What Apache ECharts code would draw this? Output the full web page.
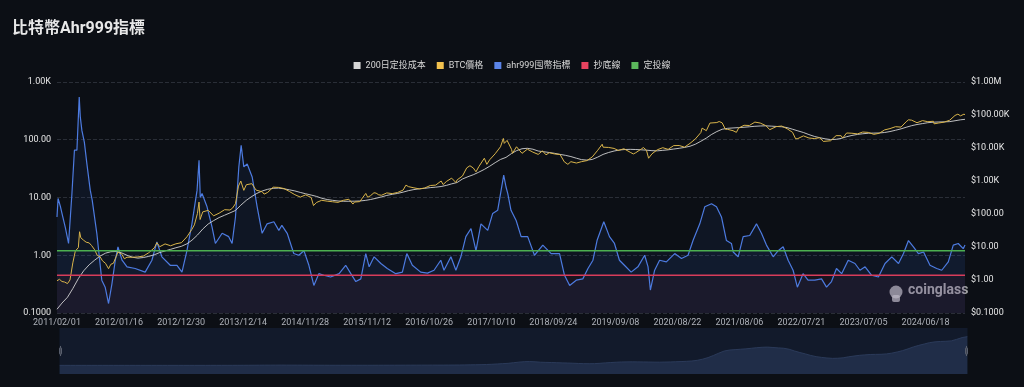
<!DOCTYPE html>
<html><head><meta charset="utf-8">
<style>html,body{margin:0;padding:0;background:#0c0f15;}#chart{width:1024px;height:387px;}</style>
<script src="https://cdn.jsdelivr.net/npm/echarts@6/dist/echarts.min.js"></script>
</head><body><div id="chart"></div>
<script>
const startDate = '2011/02/01';
const endDate = '2025/01/26';
const thresholdNames = ['抄底線', '定投線'];
const thresholdValues = [0.45, 1.2];

const costDates = ['2011/02/01','2011/03/01','2011/04/01','2011/05/01','2011/06/01','2011/07/01','2011/08/01','2011/09/01','2011/10/01','2011/11/01','2011/12/01',
'2012/01/01','2012/02/01','2012/03/01','2012/04/01','2012/05/01','2012/06/01','2012/07/01','2012/08/01','2012/09/01','2012/10/01','2012/11/01','2012/12/01',
'2013/01/01','2013/02/01','2013/03/01','2013/04/01','2013/05/01','2013/06/01','2013/07/01','2013/08/01','2013/09/01','2013/10/01','2013/11/01','2013/12/01',
'2014/01/01','2014/02/01','2014/03/01','2014/04/01','2014/05/01','2014/06/01','2014/07/01','2014/08/01','2014/09/01','2014/10/01','2014/11/01','2014/12/01',
'2015/01/01','2015/02/01','2015/03/01','2015/04/01','2015/05/01','2015/06/01','2015/07/01','2015/08/01','2015/09/01','2015/10/01','2015/11/01','2015/12/01',
'2016/01/01','2016/02/01','2016/03/01','2016/04/01','2016/05/01','2016/06/01','2016/07/01','2016/08/01','2016/09/01','2016/10/01','2016/11/01','2016/12/01',
'2017/01/01','2017/02/01','2017/03/01','2017/04/01','2017/05/01','2017/06/01','2017/07/01','2017/08/01','2017/09/01','2017/10/01','2017/11/01','2017/12/01',
'2018/01/01','2018/02/01','2018/03/01','2018/04/01','2018/05/01','2018/06/01','2018/07/01','2018/08/01','2018/09/01','2018/10/01','2018/11/01','2018/12/01',
'2019/01/01','2019/02/01','2019/03/01','2019/04/01','2019/05/01','2019/06/01','2019/07/01','2019/08/01','2019/09/01','2019/10/01','2019/11/01','2019/12/01',
'2020/01/01','2020/02/01','2020/03/01','2020/04/01','2020/05/01','2020/06/01','2020/07/01','2020/08/01','2020/09/01','2020/10/01','2020/11/01','2020/12/01',
'2021/01/01','2021/02/01','2021/03/01','2021/04/01','2021/05/01','2021/06/01','2021/07/01','2021/08/01','2021/09/01','2021/10/01','2021/11/01','2021/12/01',
'2022/01/01','2022/02/01','2022/03/01','2022/04/01','2022/05/01','2022/06/01','2022/07/01','2022/08/01','2022/09/01','2022/10/01','2022/11/01','2022/12/01',
'2023/01/01','2023/02/01','2023/03/01','2023/04/01','2023/05/01','2023/06/01','2023/07/01','2023/08/01','2023/09/01','2023/10/01','2023/11/01','2023/12/01',
'2024/01/01','2024/02/01','2024/03/01','2024/04/01','2024/05/01','2024/06/01','2024/07/01','2024/08/01','2024/09/01','2024/10/01','2024/11/01','2024/12/01',
'2025/01/01','2025/01/26'];
const costValues = [0.13,0.2,0.3,0.55,1.1,1.9,2.9,4.0,5.3,6.5,7.2,
7.3,6.6,5.6,4.9,4.6,4.8,5.2,5.8,6.8,7.6,8.5,9.5,
10.5,12.5,16,23,35,50,63,78,92,108,128,185,
260,340,420,500,560,600,610,580,540,500,450,410,
375,340,300,275,260,248,243,243,245,248,258,275,
300,330,365,395,420,460,510,550,580,600,630,650,
680,740,820,900,1150,1350,1550,1850,2250,2800,3600,4500,
5200,6800,8300,9500,9800,9200,8100,7700,7300,6900,6400,6000,
5500,4900,4450,4300,4500,5300,6400,7300,8100,8700,9000,9100,
9000,8800,8600,8300,8200,8500,8800,9300,9800,10400,11300,13000,
16000,20000,25500,31500,37000,39500,40500,41500,42500,44000,45500,46500,
47000,46000,45000,44000,41500,37000,33000,29500,25500,22500,20500,19000,
18000,18300,19500,22000,24000,25800,27000,28000,28300,28500,29500,31500,
34500,38000,42500,47500,51500,55000,58500,60500,61500,62000,63000,67000,
71500,74000];

const priceDates = ['2011/02/01','2011/02/15','2011/03/01','2011/03/15','2011/04/01','2011/04/15','2011/05/01','2011/05/15','2011/06/01','2011/06/08','2011/06/15','2011/07/01','2011/07/15','2011/08/01','2011/08/15','2011/09/01','2011/09/15','2011/10/01','2011/10/15','2011/11/01','2011/11/18','2011/12/01','2011/12/15',
'2012/01/01','2012/01/10','2012/02/01','2012/02/15','2012/03/01','2012/04/01','2012/05/01','2012/06/01','2012/07/01','2012/08/01','2012/08/16','2012/09/01','2012/10/01','2012/11/01','2012/12/01',
'2013/01/01','2013/02/01','2013/03/01','2013/03/15','2013/04/01','2013/04/10','2013/04/16','2013/05/01','2013/06/01','2013/07/01','2013/08/01','2013/09/01','2013/10/01','2013/10/15','2013/11/01','2013/11/18','2013/12/01','2013/12/18',
'2014/01/01','2014/02/01','2014/02/25','2014/03/01','2014/04/01','2014/04/11','2014/05/01','2014/06/01','2014/07/01','2014/08/01','2014/09/01','2014/10/01','2014/11/01','2014/12/01',
'2015/01/01','2015/01/14','2015/02/01','2015/03/01','2015/04/01','2015/05/01','2015/06/01','2015/07/01','2015/08/01','2015/08/24','2015/09/01','2015/10/01','2015/11/04','2015/11/15','2015/12/01','2015/12/20',
'2016/01/01','2016/01/16','2016/02/01','2016/03/01','2016/04/01','2016/05/01','2016/06/01','2016/06/17','2016/07/01','2016/08/01','2016/09/01','2016/10/01','2016/11/01','2016/12/01',
'2017/01/01','2017/01/12','2017/02/01','2017/03/01','2017/03/25','2017/04/01','2017/05/01','2017/05/25','2017/06/01','2017/06/12','2017/07/01','2017/07/16','2017/08/01','2017/09/01','2017/09/15','2017/10/01','2017/11/01','2017/11/12','2017/12/01','2017/12/17','2017/12/22',
'2018/01/01','2018/01/07','2018/02/01','2018/02/06','2018/03/01','2018/04/01','2018/05/01','2018/06/01','2018/07/01','2018/07/25','2018/08/14','2018/09/01','2018/10/01','2018/11/01','2018/11/25','2018/12/15',
'2019/01/01','2019/02/01','2019/03/01','2019/04/01','2019/05/01','2019/06/01','2019/06/26','2019/07/01','2019/08/01','2019/09/01','2019/09/25','2019/10/01','2019/10/26','2019/11/01','2019/12/01','2019/12/18',
'2020/01/01','2020/02/01','2020/02/13','2020/03/01','2020/03/13','2020/04/01','2020/05/01','2020/06/01','2020/07/01','2020/08/01','2020/09/01','2020/10/01','2020/11/01','2020/12/01',
'2021/01/01','2021/01/08','2021/02/01','2021/02/21','2021/03/01','2021/04/01','2021/04/14','2021/05/01','2021/05/19','2021/06/01','2021/07/01','2021/07/20','2021/08/01','2021/09/01','2021/10/01','2021/11/01','2021/11/10','2021/12/01',
'2022/01/01','2022/01/24','2022/02/01','2022/03/01','2022/04/01','2022/05/01','2022/06/01','2022/06/18','2022/07/01','2022/08/01','2022/09/01','2022/10/01','2022/11/01','2022/11/21','2022/12/01',
'2023/01/01','2023/02/01','2023/03/01','2023/03/10','2023/04/01','2023/05/01','2023/06/01','2023/07/01','2023/08/01','2023/09/01','2023/10/01','2023/11/01','2023/12/01',
'2024/01/01','2024/02/01','2024/03/01','2024/03/14','2024/04/01','2024/05/01','2024/06/01','2024/07/01','2024/08/01','2024/08/05','2024/09/01','2024/10/01','2024/11/01','2024/12/01','2024/12/17',
'2025/01/01','2025/01/20','2025/01/26'];
const priceValues = [0.95,1.05,0.9,0.87,0.78,1.0,3.3,7.5,9.6,29,19,16,14,13.3,11,8.2,5.6,5.1,3.8,3.2,2.2,3,3.2,
5.3,7.1,6,4.4,4.9,4.9,5,5.3,6.7,9.4,13.5,10.2,12.4,10.9,12.5,
13.5,20.4,34.5,47,104,230,68,116,129,88,106,135,132,150,205,700,1000,520,
770,830,530,560,470,400,450,650,640,590,480,385,325,380,
315,180,225,260,245,235,225,260,280,200,230,237,420,320,360,440,
430,380,370,435,415,450,530,750,675,620,575,615,730,750,
1000,780,980,1220,900,1080,1420,2500,2400,2900,2480,1900,2720,4900,3200,4400,6700,5900,10900,19500,13800,
13500,17000,9100,6900,10900,6900,9200,7500,6400,8200,6200,7200,6600,6350,3800,3200,
3850,3500,3850,4150,5350,8550,13000,10600,10400,9700,8400,8300,9500,9200,7400,6600,
7200,9350,10300,8550,4900,6650,8850,10200,9100,11800,11900,10600,13800,18800,
29400,40000,33500,57000,49600,59000,63500,57800,37000,36700,33500,29800,39900,48800,48100,61000,67000,57000,
47700,36000,38700,44400,46300,38500,29800,19000,19300,23300,20100,19300,20500,15800,17000,
16600,23700,23600,20000,28500,28000,26800,30500,29700,25900,27900,35400,38700,
44200,43000,62400,71500,69700,58300,67600,62700,64600,54000,57300,60800,69500,97000,106000,
94400,106000,102500];

const ahrDates = ['2011/02/01','2011/02/07','2011/02/20','2011/03/01','2011/03/20','2011/04/07','2011/04/26','2011/05/10','2011/05/24','2011/06/06','2011/06/12','2011/06/21','2011/07/05','2011/07/19','2011/08/07','2011/08/18','2011/09/13','2011/10/11','2011/10/30','2011/11/18','2011/12/07','2011/12/26',
'2012/01/10','2012/02/02','2012/03/01','2012/04/16','2012/06/11','2012/07/19','2012/08/16','2012/09/13','2012/10/30','2012/12/07',
'2013/01/04','2013/02/01','2013/03/01','2013/03/30','2013/04/10','2013/04/17','2013/04/27','2013/05/25','2013/06/22','2013/07/11','2013/08/18','2013/09/24','2013/10/13','2013/11/01','2013/11/20','2013/12/03','2013/12/18',
'2014/01/06','2014/02/03','2014/03/03','2014/03/31','2014/04/28','2014/06/05','2014/07/03','2014/07/20','2014/08/19','2014/09/25','2014/10/23','2014/11/21','2014/12/19',
'2015/01/16','2015/02/13','2015/03/13','2015/04/20','2015/06/07','2015/07/14','2015/08/12','2015/09/09','2015/10/07','2015/11/04','2015/11/23','2015/12/21',
'2016/01/28','2016/03/04','2016/04/21','2016/05/28','2016/06/22','2016/07/23','2016/09/08','2016/10/16','2016/11/22','2016/12/30',
'2017/01/17','2017/02/25','2017/03/25','2017/04/22','2017/05/20','2017/06/18','2017/07/16','2017/08/13','2017/09/20','2017/10/18','2017/11/15','2017/12/19',
'2018/01/01','2018/01/11','2018/01/29','2018/02/27','2018/03/27','2018/05/03','2018/06/10','2018/07/27','2018/09/12','2018/10/29','2018/11/26','2018/12/25',
'2019/01/31','2019/03/09','2019/04/07','2019/05/05','2019/05/28','2019/07/05','2019/08/06','2019/09/03','2019/10/01','2019/10/29','2019/12/06',
'2020/01/13','2020/02/20','2020/03/10','2020/03/23','2020/04/16','2020/05/14','2020/06/21','2020/08/07','2020/09/14','2020/10/21','2020/11/18','2020/12/26',
'2021/01/23','2021/03/02','2021/03/30','2021/04/27','2021/05/25','2021/06/22','2021/07/02','2021/07/30','2021/08/27','2021/10/03','2021/11/10','2021/12/08',
'2022/01/05','2022/02/12','2022/03/12','2022/04/09','2022/05/07','2022/06/04','2022/06/28','2022/07/30','2022/08/27','2022/10/04','2022/11/11','2022/12/09',
'2023/01/06','2023/02/03','2023/03/04','2023/04/10','2023/05/18','2023/06/15','2023/07/14','2023/08/20','2023/09/27','2023/11/03','2023/12/11',
'2024/01/18','2024/02/15','2024/03/14','2024/04/11','2024/05/09','2024/06/07','2024/07/13','2024/08/20','2024/09/17','2024/10/24','2024/11/21','2024/12/19',
'2025/01/16','2025/01/26'];
const ahrValues = [4.6,9.6,7,5.3,3,1.6,11.7,66,66,550,250,145,90,38.6,13.4,9,2.4,0.37,0.28,0.146,0.32,0.82,
1.4,0.82,0.63,0.59,0.51,0.82,1.7,0.94,0.67,0.67,
0.51,1.2,3.5,13.4,44,10,11.7,6.9,3.1,1.6,2.4,2.1,1.6,4.6,34,80,34,
38,22.7,6.9,2.4,3.5,3.8,2.7,3.3,2.4,1.07,1.0,1.2,0.67,
0.30,0.48,0.45,0.42,0.48,0.67,0.48,0.35,0.39,1.07,0.63,0.94,
0.72,0.59,0.48,0.51,1.07,0.67,0.51,0.49,0.55,0.82,
0.55,0.94,0.55,0.94,2.1,2.9,1.2,3.5,2.7,5.3,6.0,24.4,
15.2,11.7,6.0,4.0,2.1,2.1,1.0,1.5,1.07,1.07,0.45,0.30,
0.37,0.39,0.59,0.82,1.8,3.8,2.1,1.6,0.82,0.67,0.51,
0.63,1.0,0.63,0.25,0.55,0.82,0.77,1.07,0.88,1.0,1.8,3.5,
6.9,7.8,6.9,4.6,1.8,1.6,1.14,0.94,2.1,2.2,3.5,2.4,
1.5,0.94,1.2,1.4,0.82,0.55,0.28,0.48,0.37,0.37,0.39,0.28,
0.35,0.59,0.48,0.82,0.72,0.55,0.63,0.45,0.42,0.72,0.94,
0.72,1.07,1.8,1.4,1.07,1.14,0.67,0.59,0.55,0.77,1.5,1.6,
1.3,1.5];

function parseDay(s) { const p = s.split('/').map(Number); return Date.UTC(p[0], p[1] - 1, p[2]); }
const DAY = 86400000;
const t0 = parseDay(startDate), t1 = parseDay(endDate);
const categories = [];
for (let t = t0; t <= t1; t += DAY) {
  const d = new Date(t);
  categories.push(d.getUTCFullYear() + '/' + String(d.getUTCMonth() + 1).padStart(2, '0') + '/' + String(d.getUTCDate()).padStart(2, '0'));
}
function idx(s) { return Math.round((parseDay(s) - t0) / DAY); }
function zip(ds, vs) { return ds.map((d, i) => [idx(d), vs[i]]); }
const lastIdx = categories.length - 1;

function fmt(v, prefix) {
  if (v >= 1e6) return prefix + (v / 1e6).toFixed(2) + 'M';
  if (v >= 1e3) return prefix + (v / 1e3).toFixed(2) + 'K';
  if (v >= 1) return prefix + v.toFixed(2);
  return prefix + v.toFixed(4);
}

const FONT = "Roboto, 'Noto Sans CJK TC', sans-serif";
const chart = echarts.init(document.getElementById('chart'), null, { renderer: 'canvas' });
chart.setOption({
  backgroundColor: '#0c0f15',
  animation: false,
  textStyle: { fontFamily: FONT },
  title: { text: '比特幣Ahr999指標', left: 7, top: 16, textStyle: { color: '#e8e8e8', fontSize: 16, fontWeight: 'bold', fontFamily: FONT } },
  legend: {
    top: 56, left: 'center', itemWidth: 7, itemHeight: 7, itemGap: 11, icon: 'rect',
    textStyle: { color: '#d8d8d8', fontSize: 9, fontFamily: FONT },
    data: ['200日定投成本', 'BTC價格', 'ahr999囤幣指標', '抄底線', '定投線']
  },
  grid: { left: 57, right: 59, top: 82, bottom: 74 },
  xAxis: {
    type: 'category', data: categories, boundaryGap: false,
    axisLine: { show: false }, axisTick: { show: false },
    axisLabel: { interval: 348, color: '#aeb2ba', fontSize: 9, margin: 5, fontFamily: FONT },
    splitLine: { show: false }
  },
  yAxis: [
    { type: 'log', logBase: 10, min: 0.1, max: 1000, position: 'left',
      axisLine: { show: false }, axisTick: { show: false },
      axisLabel: { color: '#e6e6e6', fontSize: 9, margin: 6, fontFamily: FONT, formatter: v => fmt(v, '') },
      splitLine: { show: true, lineStyle: { color: '#2a2e37', type: 'dashed', width: 1 } } },
    { type: 'log', logBase: 10, min: 0.1, max: 1000000, position: 'right',
      axisLine: { show: false }, axisTick: { show: false },
      axisLabel: { color: '#e6e6e6', fontSize: 9, margin: 6, fontFamily: FONT, formatter: v => fmt(v, '$') },
      splitLine: { show: false } }
  ],
  dataZoom: [{
    type: 'slider', xAxisIndex: 0, start: 0, end: 100, left: 57, right: 59, bottom: 13, height: 46,
    showDetail: false, brushSelect: false, moveHandleSize: 0,
    backgroundColor: 'rgba(0,0,0,0)', borderColor: 'transparent', fillerColor: 'rgba(24,36,62,0.55)',
    handleSize: '22%', handleStyle: { color: '#3d4250', borderColor: '#5a606e' },
    dataBackground: { lineStyle: { color: '#42547a', width: 1, opacity: 1 }, areaStyle: { color: '#2a3856', opacity: 1 } },
    selectedDataBackground: { lineStyle: { color: '#42547a', width: 1, opacity: 1 }, areaStyle: { color: '#2a3856', opacity: 1 } }
  }],
  graphic: [
    { type: 'text', left: 908, top: 284, style: { text: 'coinglass', fill: 'rgba(210,210,210,0.75)', font: 'bold 14px ' + FONT } },
    { type: 'circle', shape: { cx: 896, cy: 292, r: 6.5 }, style: { fill: 'rgba(210,210,210,0.7)' } },
    { type: 'rect', shape: { x: 892, y: 295, width: 8, height: 7, r: 2 }, style: { fill: 'rgba(210,210,210,0.7)' } }
  ],
  series: [
    { name: '200日定投成本', type: 'line', yAxisIndex: 1, showSymbol: false, data: zip(costDates, costValues),
      itemStyle: { color: '#d6d6d6' }, lineStyle: { color: 'rgba(220,220,220,0.85)', width: 1 }, z: 3 },
    { name: 'BTC價格', type: 'line', yAxisIndex: 1, showSymbol: false, data: zip(priceDates, priceValues),
      itemStyle: { color: '#f2c14e' }, lineStyle: { color: '#d9b44a', width: 1 }, z: 4 },
    { name: 'ahr999囤幣指標', type: 'line', yAxisIndex: 0, showSymbol: false, data: zip(ahrDates, ahrValues),
      itemStyle: { color: '#5b84e8' }, lineStyle: { color: '#4d7be0', width: 1.2 },
      areaStyle: { origin: 'start', color: 'rgba(60,100,190,0.13)' }, z: 2 },
    { name: thresholdNames[0], type: 'line', yAxisIndex: 0, showSymbol: false,
      data: [[0, thresholdValues[0]], [lastIdx, thresholdValues[0]]],
      itemStyle: { color: '#e8435f' }, lineStyle: { color: '#d83c5a', width: 1.5 }, z: 5,
      markArea: { silent: true, itemStyle: { color: 'rgba(150,60,120,0.10)' }, data: [[{ yAxis: 0.1 }, { yAxis: thresholdValues[0] }]] } },
    { name: thresholdNames[1], type: 'line', yAxisIndex: 0, showSymbol: false,
      data: [[0, thresholdValues[1]], [lastIdx, thresholdValues[1]]],
      itemStyle: { color: '#5cb85c' }, lineStyle: { color: '#4caf50', width: 1.5 }, z: 5,
      markArea: { silent: true, itemStyle: { color: 'rgba(40,70,140,0.10)' }, data: [[{ yAxis: thresholdValues[0] }, { yAxis: thresholdValues[1] }]] } }
  ]
});
</script></body></html>
